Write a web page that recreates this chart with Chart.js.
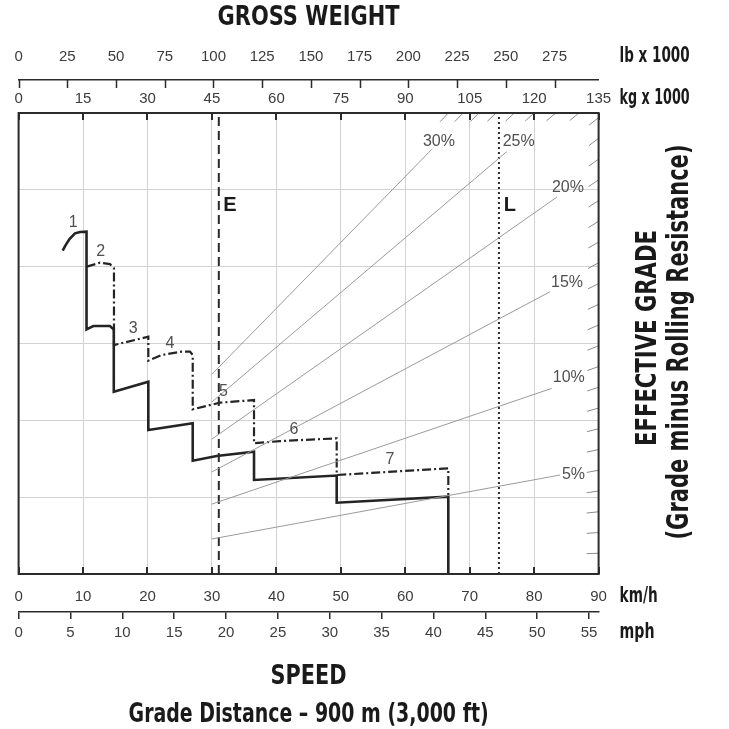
<!DOCTYPE html>
<html>
<head>
<meta charset="utf-8">
<script src="https://cdn.jsdelivr.net/npm/chart.js@4.4.0/dist/chart.umd.min.js"></script>
<style>
  html, body { margin: 0; padding: 0; background: #fff; }
</style>
</head>
<body>
<canvas id="rimpullChart" width="729" height="729"></canvas>
<script>
// speed (km/h) vs rimpull (kg x 1000)
const solidSpeed = [6.84, 7.3, 7.9, 8.75, 9.53, 10.54, 10.54, 11.59, 14.18, 14.77, 14.77, 20.13, 20.13, 27.02, 27.02, 30.74, 36.53, 36.53, 49.36, 49.36, 66.68, 66.68];
const solidPull  = [21.04, 21.4, 21.8, 22.17, 22.26, 22.28, 15.92, 16.14, 16.14, 15.91, 11.86, 12.51, 9.37, 9.81, 7.37, 7.68, 7.96, 6.12, 6.41, 4.64, 5.03, 0];
const dashSpeed  = [10.57, 12.63, 14.18, 14.80, 14.80, 20.13, 20.13, 22.21, 25.31, 26.60, 27.02, 27.02, 31.25, 36.53, 36.53, 40.56, 49.36, 49.36, 66.68, 66.68];
const dashPull   = [20.00, 20.26, 20.17, 19.89, 14.90, 15.44, 13.88, 14.25, 14.47, 14.47, 14.25, 10.72, 11.15, 11.32, 8.51, 8.65, 8.83, 6.44, 6.88, 5.08];

// gear numbers and where they sit
const gearNames = ['1', '2', '3', '4', '5', '6', '7'];
const gearLabelSpeed = [8.49, 12.74, 17.80, 23.49, 31.77, 42.74, 57.64];
const gearLabelPull  = [22.86, 20.97, 15.99, 14.97, 11.86, 9.42, 7.46];

// effective grade lines (gross weight kg x 1000 -> rimpull)
const grades = [5, 10, 15, 20, 25, 30];
const gradeStartKg   = [45, 45, 45, 45, 45, 45];
const gradeStartPull = [2.28, 4.55, 6.64, 8.78, 11.2, 13.0];
const gradeEndKg     = [126.0, 124.1, 123.7, 125.3, 113.6, 96.2];
const gradeEndPull   = [6.44, 12.08, 18.37, 24.53, 27.48, 27.64];
const gradeMarks = [1, 2, 3, 4, 5, 6, 7, 8, 9, 10, 11, 12, 13, 14, 15, 16, 17, 18, 19, 20, 21, 22, 23, 24, 25, 26, 27, 28, 29, 30];

// empty / loaded weight
const markerNames = ['E', 'L'];
const markerKg = [46.6, 111.8];

// axis ticks
const kmhTicks = [0, 10, 20, 30, 40, 50, 60, 70, 80, 90];
const mphTicks = [0, 5, 10, 15, 20, 25, 30, 35, 40, 45, 50, 55];
const kgTicks  = [0, 15, 30, 45, 60, 75, 90, 105, 120, 135];
const lbTicks  = [0, 25, 50, 75, 100, 125, 150, 175, 200, 225, 250, 275];
const pullTicks = [0, 5, 10, 15, 20, 25, 30];

const NARROW = "'Liberation Sans Narrow', 'DejaVu Sans Condensed', 'Liberation Sans', sans-serif";
const PLAIN = "'Liberation Sans', Arial, sans-serif";
const tickFont = { family: PLAIN, size: 15 };

function setTicks(list) {
	return function(scale) { scale.ticks = list.map(v => ({ value: v })); };
}
function fixHeight(h) {
	return function(scale) { scale.height = h; };
}

const gradeLabelNudge = [[2, 0], [1, -11], [1, -9], [-5, -9], [-4, -10], [-9, -8]];

// bold condensed text, squeezed to the width it has in the original
function squeezed(ctx, text, x, y, size, width) {
	ctx.font = 'bold ' + size + 'px ' + NARROW;
	ctx.fillText(text, x, y, width);
}

const chartDecor = {
	id: 'chartDecor',
	afterDatasetsDraw(chart) {
		const { ctx, chartArea: area, scales } = chart;
		const kmh = scales.kmh, kg = scales.kg, lb = scales.lb, y = scales.y;
		ctx.save();

		// grade hatches along the top and right edges
		ctx.strokeStyle = '#8c8c8c';
		ctx.lineWidth = 1;
		ctx.beginPath();
		gradeMarks.forEach(g => {
			const slope = g / 100;
			let endKg = kg.max, endPull = slope * kg.max;
			if (endPull > y.max) { endPull = y.max; endKg = y.max / slope; }
			const x1 = kg.getPixelForValue(endKg), y1 = y.getPixelForValue(endPull);
			const dx = x1 - kg.getPixelForValue(0), dy = y1 - y.getPixelForValue(0);
			const len = Math.hypot(dx, dy);
			ctx.moveTo(x1 - dx / len * 12, y1 - dy / len * 12);
			ctx.lineTo(x1, y1);
		});
		ctx.stroke();

		// plot frame
		ctx.strokeStyle = '#2b2b2b';
		ctx.lineWidth = 2;
		ctx.strokeRect(area.left, area.top, area.width, area.height);

		// inward ticks on km/h and kg, downward ticks on lb
		ctx.beginPath();
		kmh.ticks.forEach(t => {
			const px = Math.round(kmh.getPixelForValue(t.value));
			ctx.moveTo(px, area.bottom); ctx.lineTo(px, area.bottom - 7);
		});
		kg.ticks.forEach(t => {
			const px = Math.round(kg.getPixelForValue(t.value));
			ctx.moveTo(px, area.top); ctx.lineTo(px, area.top + 7);
		});
		ctx.stroke();
		ctx.lineWidth = 1.5;
		ctx.beginPath();
		lb.ticks.forEach(t => {
			const px = Math.round(lb.getPixelForValue(t.value)) + 0.5;
			ctx.moveTo(px, lb.bottom); ctx.lineTo(px, lb.bottom + 8);
		});
		ctx.stroke();

		// grade labels
		ctx.fillStyle = '#505050';
		ctx.font = '16px ' + PLAIN;
		ctx.textAlign = 'left';
		ctx.textBaseline = 'middle';
		grades.forEach((g, i) => {
			const px = kg.getPixelForValue(gradeEndKg[i]) + gradeLabelNudge[i][0];
			const py = y.getPixelForValue(gradeEndPull[i]) + gradeLabelNudge[i][1];
			ctx.fillText(g + '%', px, py);
		});

		// gear numbers
		ctx.textAlign = 'center';
		gearNames.forEach((n, i) => {
			ctx.fillText(n, kmh.getPixelForValue(gearLabelSpeed[i]), y.getPixelForValue(gearLabelPull[i]));
		});

		// E / L
		ctx.fillStyle = '#1a1a1a';
		ctx.font = 'bold 20px ' + PLAIN;
		markerNames.forEach((n, i) => {
			ctx.fillText(n, kg.getPixelForValue(markerKg[i]) + 11, y.getPixelForValue(24));
		});
		ctx.restore();
	},
	afterDraw(chart) {
		const { ctx, chartArea: area, scales } = chart;
		const midX = (area.left + area.right) / 2;
		ctx.save();
		ctx.fillStyle = '#1a1a1a';
		ctx.textBaseline = 'middle';

		// titles
		ctx.textAlign = 'center';
		squeezed(ctx, 'GROSS WEIGHT', midX, 18, 27, 182);
		squeezed(ctx, 'SPEED', midX, 677, 27, 76);
		squeezed(ctx, 'Grade Distance \u2013 900 m (3,000 ft)', midX, 715, 27, 360);

		// units
		ctx.textAlign = 'left';
		const ux = area.right + 21;
		squeezed(ctx, 'lb x 1000', ux, scales.lb.bottom - 23, 21, 70);
		squeezed(ctx, 'kg x 1000', ux, scales.kg.bottom - 14, 21, 70);
		squeezed(ctx, 'km/h', ux, scales.kmh.top + 23, 21, 38);
		squeezed(ctx, 'mph', ux, scales.mph.top + 21, 21, 35);

		// right-hand title, reading upwards
		ctx.textAlign = 'center';
		ctx.translate(area.right + 50, 338);
		ctx.rotate(-Math.PI / 2);
		squeezed(ctx, 'EFFECTIVE GRADE', 0, 0, 28, 216);
		squeezed(ctx, '(Grade minus Rolling Resistance)', -4, 32, 30, 395);
		ctx.restore();
	}
};

const gradeSets = grades.map((g, i) => ({
	label: g + '%',
	xAxisID: 'kg',
	data: [{ x: gradeStartKg[i], y: gradeStartPull[i] }, { x: gradeEndKg[i], y: gradeEndPull[i] }],
	borderColor: '#9a9a9a',
	borderWidth: 1,
	pointRadius: 0,
	showLine: true
}));

const markerSets = markerKg.map((w, i) => ({
	label: markerNames[i],
	xAxisID: 'kg',
	data: [{ x: w, y: 0 }, { x: w, y: 30 }],
	borderColor: '#2a2a2a',
	borderWidth: 2,
	borderDash: i === 0 ? [9, 5] : [2, 3],
	pointRadius: 0,
	showLine: true
}));

new Chart(document.getElementById('rimpullChart'), {
	type: 'scatter',
	data: {
		datasets: [
			...gradeSets,
			...markerSets,
			{
				label: 'solid',
				xAxisID: 'kmh',
				data: solidSpeed.map((s, i) => ({ x: s, y: solidPull[i] })),
				borderColor: '#242424',
				borderWidth: 2.6,
				pointRadius: 0,
				showLine: true
			},
			{
				label: 'dash-dot',
				xAxisID: 'kmh',
				data: dashSpeed.map((s, i) => ({ x: s, y: dashPull[i] })),
				borderColor: '#242424',
				borderWidth: 2.2,
				borderDash: [9, 3, 2, 3],
				pointRadius: 0,
				showLine: true
			}
		]
	},
	options: {
		responsive: false,
		animation: false,
		layout: { padding: { left: 18.6, right: 130.4, top: 0, bottom: 36 } },
		plugins: {
			legend: { display: false },
			tooltip: { enabled: false }
		},
		scales: {
			kmh: {
				axis: 'x', type: 'linear', position: 'bottom', min: 0, max: 90,
				afterBuildTicks: setTicks(kmhTicks),
				afterFit: fixHeight(38),
				grid: { color: '#d2d2d2', lineWidth: 1, drawTicks: false },
				border: { display: false },
				ticks: { font: tickFont, color: '#3c3c3c', padding: 14, maxRotation: 0 }
			},
			mph: {
				axis: 'x', type: 'linear', position: 'bottom', min: 0, max: 90 / 1.609344,
				afterBuildTicks: setTicks(mphTicks),
				afterFit: fixHeight(81),
				grid: { drawOnChartArea: false, drawTicks: true, tickLength: 7, color: '#2b2b2b', lineWidth: 1.5 },
				border: { display: true, color: '#2b2b2b', width: 1.5 },
				ticks: { font: tickFont, color: '#3c3c3c', padding: 5, maxRotation: 0 }
			},
			kg: {
				axis: 'x', type: 'linear', position: 'top', min: 0, max: 135,
				afterBuildTicks: setTicks(kgTicks),
				afterFit: fixHeight(33),
				grid: { drawOnChartArea: false, drawTicks: false },
				border: { display: false },
				ticks: { font: tickFont, color: '#3c3c3c', padding: 5, maxRotation: 0 }
			},
			lb: {
				axis: 'x', type: 'linear', position: 'top', min: 0, max: 135 * 2.20462,
				afterBuildTicks: setTicks(lbTicks),
				afterFit: fixHeight(80),
				grid: { drawOnChartArea: false, drawTicks: false },
				border: { display: true, color: '#2b2b2b', width: 1.5 },
				ticks: { font: tickFont, color: '#3c3c3c', padding: 14, maxRotation: 0 }
			},
			y: {
				type: 'linear', position: 'left', min: 0, max: 30,
				afterBuildTicks: setTicks(pullTicks),
				afterFit: function(scale) { scale.width = 0; },
				grid: { color: '#d2d2d2', lineWidth: 1, drawTicks: false },
				border: { display: false },
				ticks: { display: false }
			}
		}
	},
	plugins: [chartDecor]
});
</script>
</body>
</html>
